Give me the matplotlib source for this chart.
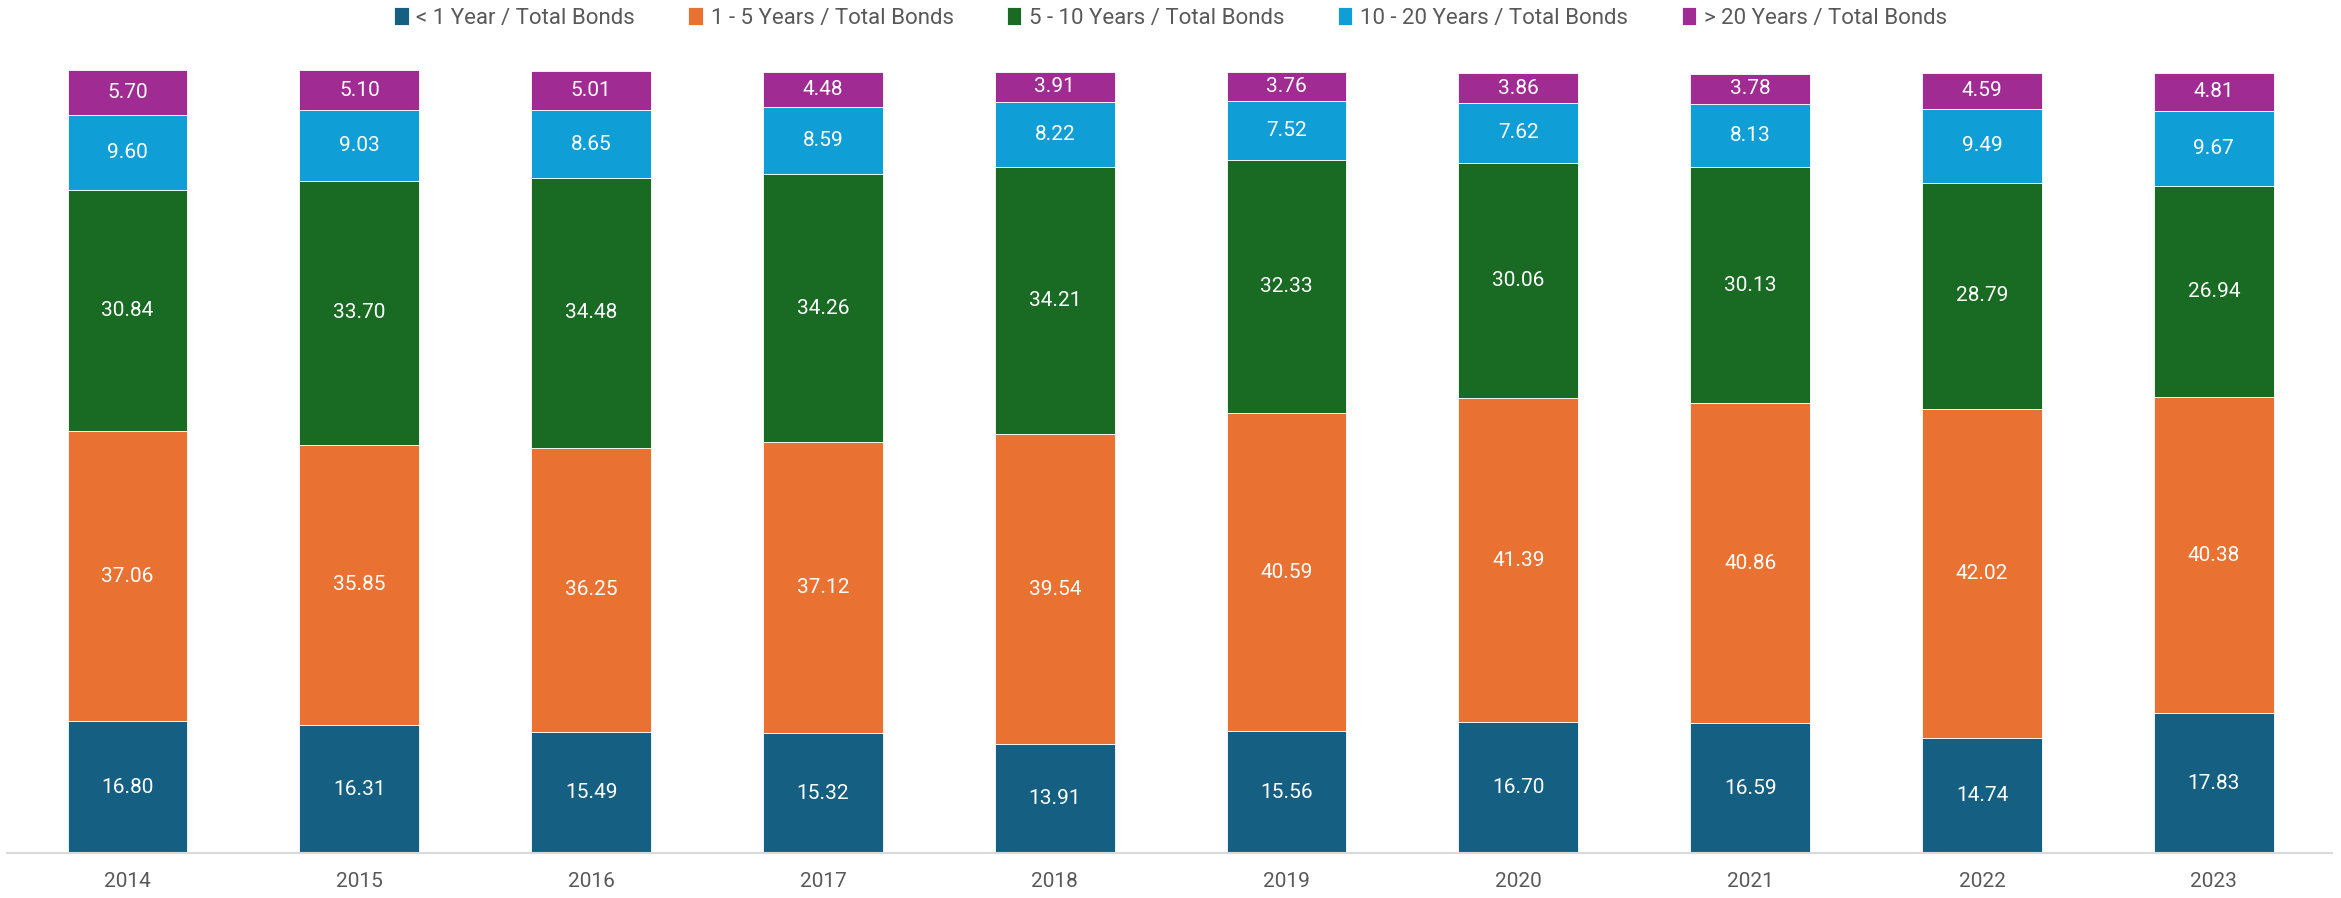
import matplotlib
matplotlib.use("Agg")
import matplotlib.pyplot as plt
import numpy as np

plt.rcParams['font.family'] = ['Roboto', 'DejaVu Sans']

years = ["2014", "2015", "2016", "2017", "2018", "2019", "2020", "2021", "2022", "2023"]
lt1 = [16.80, 16.31, 15.49, 15.32, 13.91, 15.56, 16.70, 16.59, 14.74, 17.83]
y1_5 = [37.06, 35.85, 36.25, 37.12, 39.54, 40.59, 41.39, 40.86, 42.02, 40.38]
y5_10 = [30.84, 33.70, 34.48, 34.26, 34.21, 32.33, 30.06, 30.13, 28.79, 26.94]
y10_20 = [9.60, 9.03, 8.65, 8.59, 8.22, 7.52, 7.62, 8.13, 9.49, 9.67]
gt20 = [5.70, 5.10, 5.01, 4.48, 3.91, 3.76, 3.86, 3.78, 4.59, 4.81]

series_names = ["< 1 Year / Total Bonds", "1 - 5 Years / Total Bonds",
                "5 - 10 Years / Total Bonds", "10 - 20 Years / Total Bonds",
                "> 20 Years / Total Bonds"]
series = [lt1, y1_5, y5_10, y10_20, gt20]
colors = ["#156082", "#E97132", "#196B24", "#0F9ED5", "#A02B93"]

W, H = 2341, 898
fig = plt.figure(figsize=(W / 100, H / 100), dpi=100)
ax = fig.add_axes([7 / W, 1 - 853 / H, (2332 - 7) / W, (853 - 70) / H])

x = np.arange(len(years))
bottom = np.zeros(len(years))
handles = []
for name, vals, c in zip(series_names, series, colors):
    vals = np.array(vals)
    bars = ax.bar(x, vals, bottom=bottom, width=0.517, color=c, label=name,
                  edgecolor="white", linewidth=0.6)
    handles.append(bars)
    for xi, b, v in zip(x, bottom, vals):
        ax.text(xi, b + v / 2, f"{v:.2f}", ha="center", va="center",
                color="white", fontsize=15)
    bottom += vals

ax.set_xlim(-0.52, 9.51)
ax.set_ylim(0, 100)
ax.set_xticks(x)
ax.set_xticklabels(years, fontsize=15, color="#595959")
ax.tick_params(axis="x", length=0, pad=14)
ax.set_yticks([])
for s in ["top", "right", "left"]:
    ax.spines[s].set_visible(False)
ax.spines["bottom"].set_color("#D9D9D9")
ax.spines["bottom"].set_linewidth(1.5)

leg = fig.legend(handles=handles, labels=series_names, loc="center",
                 bbox_to_anchor=(0.5, 1 - 18 / H), ncol=5, frameon=False,
                 fontsize=16, handlelength=0.65, handleheight=0.85,
                 handletextpad=0.35, columnspacing=2.4)
for t in leg.get_texts():
    t.set_color("#595959")

fig.savefig("out.png", dpi=100)
